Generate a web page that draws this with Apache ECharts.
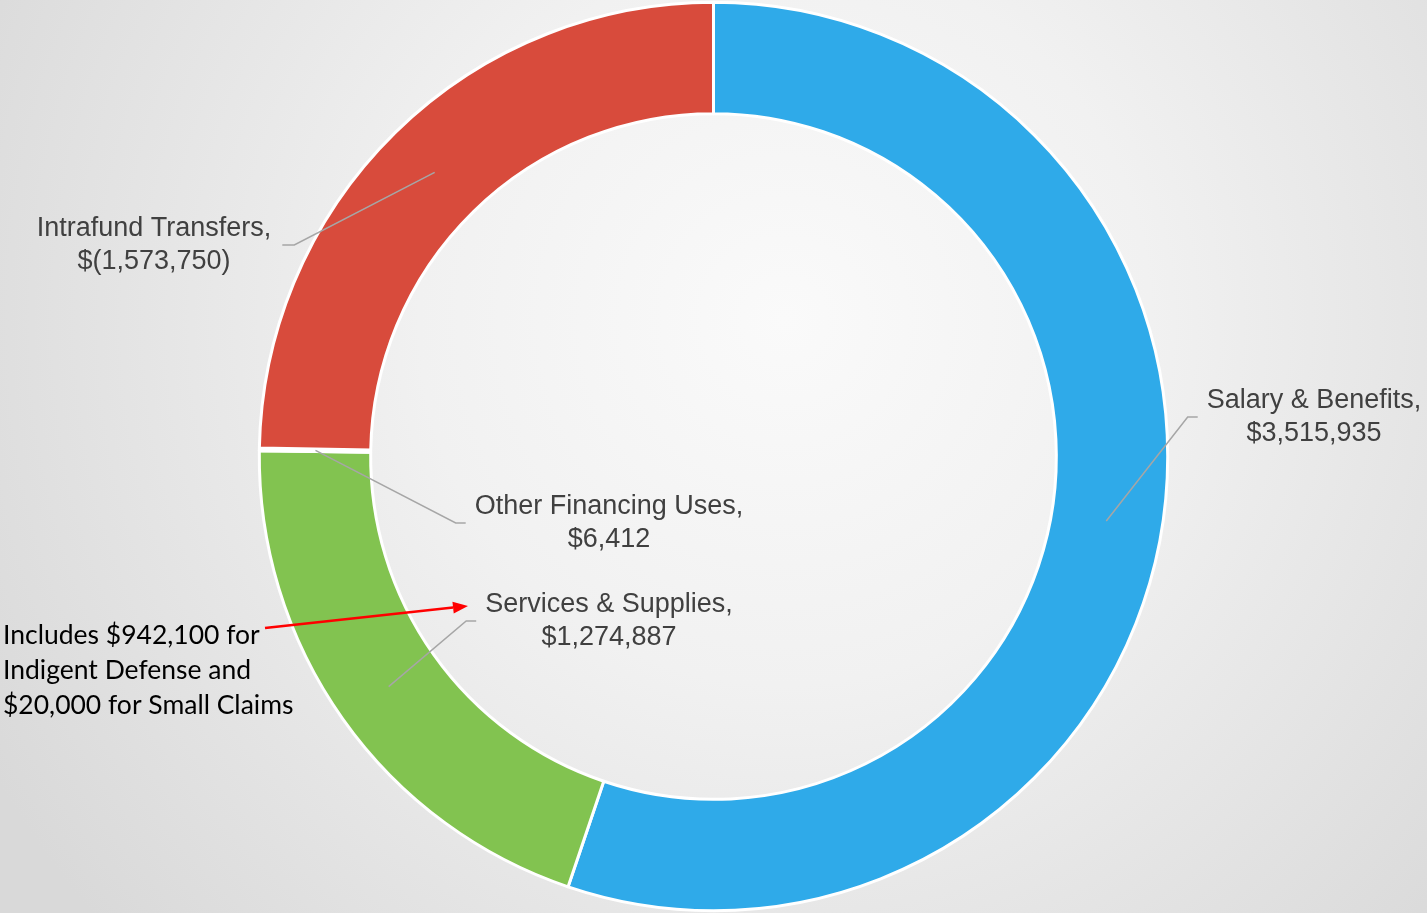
<!DOCTYPE html>
<html>
<head>
<meta charset="utf-8">
<title>Budget breakdown</title>
<script src="https://cdn.jsdelivr.net/npm/echarts@6/dist/echarts.min.js"></script>
<style>
  html, body { margin: 0; padding: 0; }
  #chart { width: 1427px; height: 913px; }
</style>
</head>
<body>
<div id="chart"></div>
<script>
// data
const categories = ['Salary & Benefits', 'Services & Supplies', 'Other Financing Uses', 'Intrafund Transfers']
const amounts = [3515935, 1274887, 6412, -1573750]
const colors = ['#2faae9', '#82c350', '#d94c3c', '#d84b3c']

// where each label block sits (center of text), px
const labelPos = [[1314, 417], [609, 621], [609, 523], [154, 245]]

const note = 'Includes $942,100 for\nIndigent Defense and\n$20,000 for Small Claims'

function money (v) {
  const s = Math.abs(v).toLocaleString('en-US')
  return v < 0 ? '$(' + s + ')' : '$' + s
}

const pieData = categories.map((name, i) => ({
  name: name,
  value: Math.abs(amounts[i]),
  itemStyle: { color: colors[i] }
}))

const chart = echarts.init(document.getElementById('chart'))

// red arrow pointing at the services label
const arrowFrom = [265, 628]
const arrowTo = [468, 606]
const dx = arrowTo[0] - arrowFrom[0]
const dy = arrowTo[1] - arrowFrom[1]
const len = Math.sqrt(dx * dx + dy * dy)
const ux = dx / len, uy = dy / len
const headLen = 15, headW = 6
const bx = arrowTo[0] - ux * headLen, by = arrowTo[1] - uy * headLen

const option = {
  backgroundColor: {
    type: 'radial', x: 0.55, y: 0.35, r: 1.0,
    colorStops: [
      { offset: 0, color: '#fafafa' },
      { offset: 0.4, color: '#f1f1f1' },
      { offset: 1, color: '#d9d9d9' }
    ]
  },
  animation: false,
  series: [
    {
      // the ring
      type: 'pie',
      z: 2,
      center: ['50%', '50%'],
      radius: ['75.1%', '99.5%'],
      startAngle: 90,
      clockwise: true,
      silent: true,
      avoidLabelOverlap: false,
      label: { show: false },
      labelLine: { show: false },
      itemStyle: { borderColor: '#ffffff', borderWidth: 3 },
      data: pieData
    },
    {
      // invisible pie out to mid-ring, carries labels + leader lines
      type: 'pie',
      z: 10,
      center: ['50%', '50%'],
      radius: ['0%', '87.2%'],
      startAngle: 90,
      clockwise: true,
      silent: true,
      avoidLabelOverlap: false,
      itemStyle: { color: 'rgba(0,0,0,0)' },
      label: {
        show: true,
        position: 'outside',
        color: '#404040',
        fontFamily: 'Liberation Sans, Arial, sans-serif',
        fontSize: 27,
        lineHeight: 33,
        align: 'center',
        formatter: p => p.name + ',\n' + money(amounts[p.dataIndex])
      },
      labelLine: {
        show: true,
        length: 10,
        length2: 10,
        lineStyle: { color: '#a6a6a6', width: 1.5 }
      },
      labelLayout: function (p) {
        const pos = labelPos[p.dataIndex]
        const w = p.labelRect.width
        const start = p.labelLinePoints ? p.labelLinePoints[0] : pos
        const onRight = pos[0] > start[0]
        const edge = onRight ? pos[0] - w / 2 - 9 : pos[0] + w / 2 + 11
        const elbow = onRight ? edge - 10 : edge + 12
        return {
          x: pos[0],
          y: pos[1],
          align: 'center',
          verticalAlign: 'middle',
          labelLinePoints: [start, [elbow, pos[1]], [edge, pos[1]]]
        }
      },
      data: pieData.map(d => ({ name: d.name, value: d.value }))
    }
  ],
  graphic: [
    {
      type: 'text',
      z: 100,
      left: 3,
      top: 618,
      style: {
        text: note,
        fill: '#000000',
        font: '26.5px Lato, "Open Sans", sans-serif',
        lineHeight: 35
      }
    },
    {
      type: 'line',
      z: 100,
      shape: { x1: arrowFrom[0], y1: arrowFrom[1], x2: bx, y2: by },
      style: { stroke: '#ff0000', lineWidth: 2.5 }
    },
    {
      type: 'polygon',
      z: 100,
      shape: {
        points: [
          arrowTo,
          [bx + uy * headW, by - ux * headW],
          [bx - uy * headW, by + ux * headW]
        ]
      },
      style: { fill: '#ff0000' }
    }
  ]
}

chart.setOption(option)
</script>
</body>
</html>
